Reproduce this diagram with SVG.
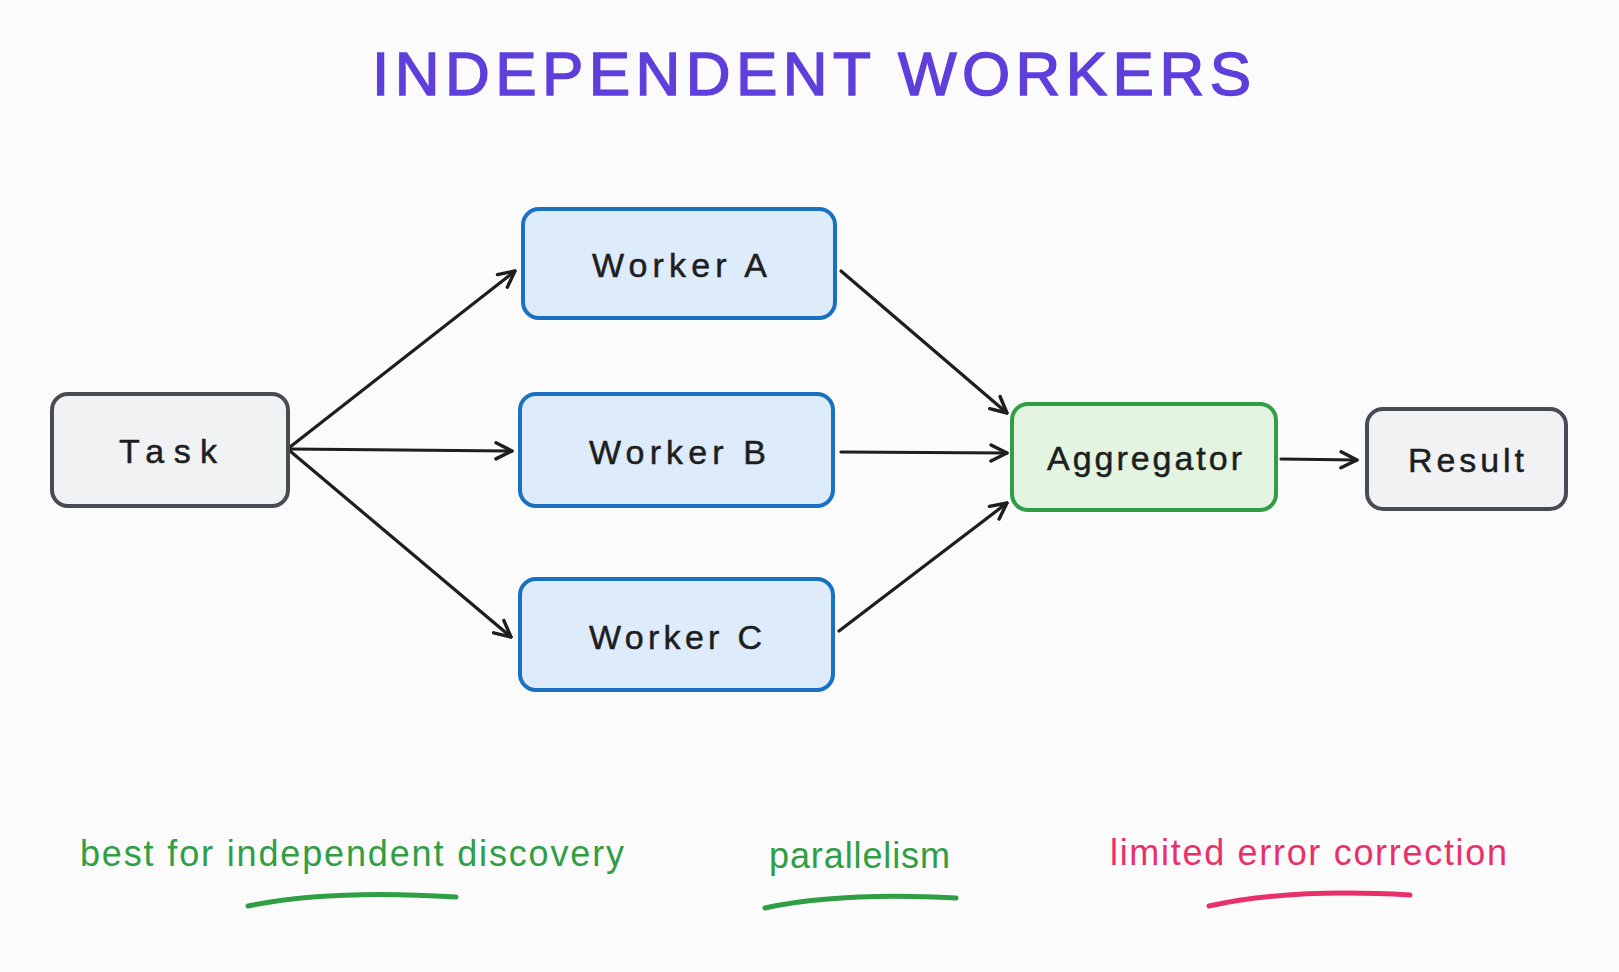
<svg xmlns="http://www.w3.org/2000/svg" width="1619" height="972" viewBox="0 0 1619 972">
  <defs>
    <marker id="arrow" viewBox="0 0 20 20" refX="18" refY="10" markerWidth="20" markerHeight="20" markerUnits="userSpaceOnUse" orient="auto">
      <path d="M2,2 L18,10 L2,18" fill="none" stroke="#1e1e1e" stroke-width="3.4" stroke-linecap="round" stroke-linejoin="round"/>
    </marker>
    <style>
      .node rect { stroke-width: 4; }
      .gray rect { fill: #f1f2f4; stroke: #474c54; }
      .blue rect { fill: #ddebfa; stroke: #1971c2; }
      .green rect { fill: #e3f5e1; stroke: #2f9e44; }
      .label { font-family: "Liberation Sans", Arial, sans-serif; font-size: 34px; fill: #1e1e1e; stroke: #1e1e1e; stroke-width: 0.5; }
      .conn line { stroke: #1e1e1e; stroke-width: 3.2; stroke-linecap: round; marker-end: url(#arrow); }
      .title { font-family: "Liberation Sans", Arial, sans-serif; font-size: 62px; fill: #5f3fdc; stroke: #5f3fdc; stroke-width: 1.5; }
      .note { font-family: "Liberation Sans", Arial, sans-serif; font-size: 36px; }
      .ul { fill: none; stroke-width: 5; stroke-linecap: round; }
    </style>
  </defs>
  <rect width="1619" height="972" fill="#fbfbfb"/>

  <text class="title" x="372" y="95" textLength="879" lengthAdjust="spacing">INDEPENDENT WORKERS</text>

  <g class="conn" id="connectors">
    <line x1="290" y1="447" x2="515" y2="271"/>
    <line x1="290" y1="449" x2="512" y2="451"/>
    <line x1="290" y1="451" x2="511" y2="637"/>
    <line x1="841" y1="271" x2="1007" y2="413"/>
    <line x1="841" y1="452" x2="1007" y2="453"/>
    <line x1="839" y1="631" x2="1007" y2="503"/>
    <line x1="1281" y1="459" x2="1357" y2="460"/>
  </g>

  <g id="task" class="node gray">
    <rect x="52" y="394" width="236" height="112" rx="16"/>
    <text class="label" x="119" y="463" textLength="98" lengthAdjust="spacing">Task</text>
  </g>
  <g id="worker-a" class="node blue">
    <rect x="523" y="209" width="312" height="109" rx="16"/>
    <text class="label" x="592" y="277" textLength="175" lengthAdjust="spacing">Worker A</text>
  </g>
  <g id="worker-b" class="node blue">
    <rect x="520" y="394" width="313" height="112" rx="16"/>
    <text class="label" x="589" y="464" textLength="177" lengthAdjust="spacing">Worker B</text>
  </g>
  <g id="worker-c" class="node blue">
    <rect x="520" y="579" width="313" height="111" rx="16"/>
    <text class="label" x="589" y="649" textLength="173" lengthAdjust="spacing">Worker C</text>
  </g>
  <g id="aggregator" class="node green">
    <rect x="1012" y="404" width="264" height="106" rx="16"/>
    <text class="label" x="1047" y="470" textLength="195" lengthAdjust="spacing">Aggregator</text>
  </g>
  <g id="result" class="node gray">
    <rect x="1367" y="409" width="199" height="100" rx="16"/>
    <text class="label" x="1408" y="472" textLength="116" lengthAdjust="spacing">Result</text>
  </g>

  <g id="notes">
    <text class="note" x="80" y="866" fill="#2f9e44" textLength="544" lengthAdjust="spacing">best for independent discovery</text>
    <path class="ul" d="M248,906 Q330,889 456,897" stroke="#2f9e44"/>
    <text class="note" x="769" y="868" fill="#2f9e44" textLength="181" lengthAdjust="spacing">parallelism</text>
    <path class="ul" d="M765,908 Q840,892 956,898" stroke="#2f9e44"/>
    <text class="note" x="1110" y="865" fill="#e8306b" textLength="397" lengthAdjust="spacing">limited error correction</text>
    <path class="ul" d="M1209,906 Q1290,888 1410,895" stroke="#e8306b"/>
  </g>
</svg>
